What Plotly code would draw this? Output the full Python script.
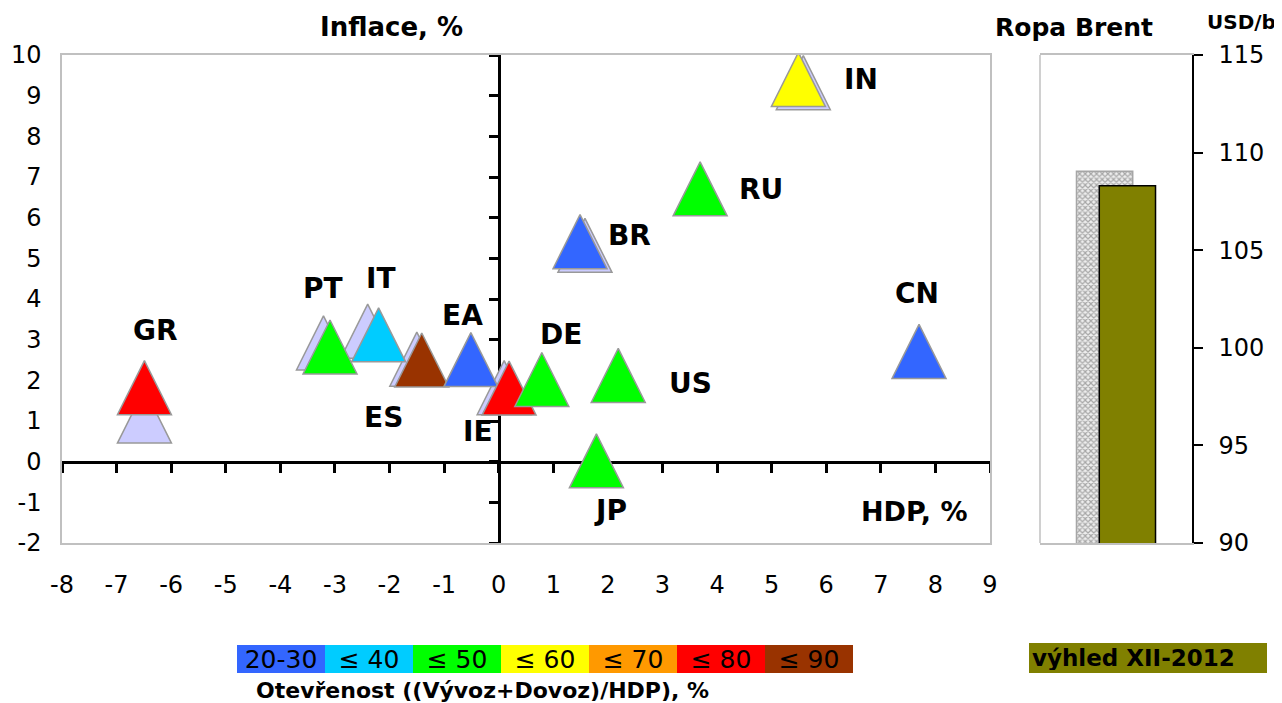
import plotly.graph_objects as go

W, H = 1282, 703          # browser window
OFF = 8                   # default page body margin
FW, FH = W - OFF, H - OFF # figure size so that it ends at the window edge

# ---------------- data ----------------
countries = ["GR", "PT", "IT", "ES", "EA", "IE", "DE", "US", "JP", "BR", "RU", "IN", "CN"]
gdp = [-6.49, -3.09, -2.20, -1.41, -0.51, 0.19, 0.79, 2.19, 1.79, 1.49, 3.69, 5.49, 7.70]
inflation = [1.82, 2.82, 3.12, 2.50, 2.51, 1.81, 2.02, 2.12, 0.02, 5.41, 6.71, 9.40, 2.71]
openness = ["≤ 80", "≤ 50", "≤ 40", "≤ 90", "20-30", "≤ 80", "≤ 50", "≤ 50", "≤ 50",
            "20-30", "≤ 50", "≤ 60", "20-30"]

prev_countries = ["GR", "PT", "IT", "ES", "IE", "BR", "IN"]
prev_gdp = [-6.49, -3.21, -2.40, -1.50, 0.10, 1.58, 5.58]
prev_inflation = [1.12, 2.92, 3.21, 2.52, 1.82, 5.32, 9.32]

openness_classes = ["20-30", "≤ 40", "≤ 50", "≤ 60", "≤ 70", "≤ 80", "≤ 90"]
class_colors = ["#3366FF", "#00CCFF", "#00FF00", "#FFFF00", "#FF9900", "#FF0000", "#993300"]

brent_prev = 109.05
brent_now = 108.3

x_ticks = list(range(-8, 10))
x_tick_text = [str(v) for v in x_ticks]
y_ticks = list(range(-2, 11))
y_tick_text = [str(v) for v in y_ticks]
brent_ticks = [90, 95, 100, 105, 110, 115]

# label offsets in px (style)
label_offsets = {
    "GR": (11, 57), "PT": (-7, 58), "IT": (2, 56), "ES": (-38, -57), "EA": (-8, 44),
    "IE": (-31, -43), "DE": (19, 45), "US": (72, -8), "JP": (14, -50), "BR": (49, 6),
    "RU": (61, -1), "IN": (63, 0), "CN": (-2, 58),
}

# ---------------- layout geometry (window pixels -> paper) ----------------
def px_x(p):
    return (p - OFF) / FW

def px_y(p):
    return 1 - (p - OFF) / FH

main_x = [px_x(62), px_x(990)]
main_y = [px_y(543), px_y(55)]
oil_x = [px_x(1040), px_x(1192)]

XR = [-8, 9]
YR = [-2, 10]
pos_y0 = main_y[0] + (0 - YR[0]) / (YR[1] - YR[0]) * (main_y[1] - main_y[0])
pos_x0 = main_x[0] + (0 - XR[0]) / (XR[1] - XR[0]) * (main_x[1] - main_x[0])

FONT = "DejaVu Sans"
MSIZE = 54
mline = dict(color="#999999", width=1.5)

color_map = dict(zip(openness_classes, class_colors))

fig = go.Figure()

# previous outlook (lavender)
fig.add_trace(go.Scatter(
    x=prev_gdp, y=prev_inflation, mode="markers", xaxis="x", yaxis="y",
    marker=dict(symbol="arrow-down", angle=180, standoff=MSIZE / 2, size=MSIZE,
                color="#CCCCFF", line=mline),
    hoverinfo="skip", showlegend=False,
))
# current outlook
fig.add_trace(go.Scatter(
    x=gdp, y=inflation, mode="markers", xaxis="x", yaxis="y",
    marker=dict(symbol="arrow-down", angle=180, standoff=MSIZE / 2, size=MSIZE,
                color=[color_map[o] for o in openness], line=mline),
    text=countries, hoverinfo="text", showlegend=False,
))
# dummy trace to activate the zero-crossing axes
fig.add_trace(go.Scatter(x=[None], y=[None], xaxis="x2", yaxis="y2",
                         hoverinfo="skip", showlegend=False))

# oil bars
fig.add_trace(go.Bar(
    x=[0.5], y=[brent_prev], xaxis="x3", yaxis="y3", width=0.37, offset=-0.26,
    marker=dict(color="#d9d9d9", line=dict(color="#a6a6a6", width=1.5),
                pattern=dict(shape="x", fgcolor="#a6a6a6", bgcolor="#eeeeee",
                             size=4, solidity=0.5)),
    hoverinfo="y", showlegend=False,
))
fig.add_trace(go.Bar(
    x=[0.5], y=[brent_now], xaxis="x3", yaxis="y3", width=0.37, offset=-0.11,
    marker=dict(color="#808000", line=dict(color="#000000", width=1.5)),
    hoverinfo="y", showlegend=False,
))

annotations = []
for c, gx, iy in zip(countries, gdp, inflation):
    dx, dy = label_offsets[c]
    annotations.append(dict(
        x=gx, y=iy, xref="x", yref="y", text=c, showarrow=False,
        xshift=dx, yshift=dy, xanchor="center", yanchor="middle",
        font=dict(family=FONT, size=28, color="black", weight="bold"),
    ))

def title(text, x, y, size, anchor="center"):
    annotations.append(dict(
        x=px_x(x), y=px_y(y), xref="paper", yref="paper", text=text, showarrow=False,
        xanchor=anchor, yanchor="middle",
        font=dict(family=FONT, size=size, color="black", weight="bold"),
    ))

title("Inflace, %", 391, 27, 26)
title("HDP, %", 915, 511, 27)
title("Ropa Brent", 1074, 27, 25)
title("USD/b", 1241, 22, 20)
title("Otevřenost ((Vývoz+Dovoz)/HDP), %", 482, 690, 22)

# colour legend boxes
for i, (cls, col) in enumerate(zip(openness_classes, class_colors)):
    annotations.append(dict(
        x=px_x(237 + 44 + 88 * i), y=px_y(659), xref="paper", yref="paper",
        text=cls, showarrow=False, xanchor="center", yanchor="middle",
        width=88, height=28, bgcolor=col, borderpad=0, borderwidth=0,
        font=dict(family=FONT, size=25, color="black"),
    ))
annotations.append(dict(
    x=px_x(1148), y=px_y(658), xref="paper", yref="paper",
    text="výhled XII-2012", showarrow=False, xanchor="center", yanchor="middle",
    width=232, height=24, bgcolor="#808000", borderpad=3, borderwidth=0, align="left",
    font=dict(family=FONT, size=23, color="black", weight="bold"),
))

fig.update_layout(
    template="none",
    width=FW, height=FH,
    margin=dict(l=0, r=0, t=0, b=0, autoexpand=False),
    paper_bgcolor="white", plot_bgcolor="white",
    barmode="overlay",
    showlegend=False,
    font=dict(family=FONT, color="black"),
    xaxis=dict(domain=main_x, range=XR, anchor="y", showgrid=False, zeroline=False,
               automargin=False,
               showline=True, mirror=True, linecolor="#c0c0c0", linewidth=1.5,
               tickvals=x_ticks, ticktext=x_tick_text, ticks="",
               tickfont=dict(family=FONT, size=24), ticklabelstandoff=19),
    yaxis=dict(domain=main_y, range=YR, anchor="x", showgrid=False, zeroline=False,
               automargin=False,
               showline=True, mirror=True, linecolor="#c0c0c0", linewidth=1.5,
               tickvals=y_ticks, ticktext=y_tick_text, ticks="",
               tickfont=dict(family=FONT, size=24), ticklabelstandoff=14),
    xaxis2=dict(overlaying="x", anchor="free", position=pos_y0, side="bottom",
                automargin=False,
                range=XR, showgrid=False, zeroline=False, showline=True,
                linecolor="black", linewidth=3, ticks="outside", ticklen=9,
                tickwidth=2.5, tickcolor="black", dtick=1, tick0=0,
                showticklabels=False, layer="below traces"),
    yaxis2=dict(overlaying="y", anchor="free", position=pos_x0, side="left",
                automargin=False,
                range=YR, showgrid=False, zeroline=False, showline=True,
                linecolor="black", linewidth=3, ticks="outside", ticklen=9,
                tickwidth=2.5, tickcolor="black", dtick=1, tick0=0,
                showticklabels=False, layer="below traces"),
    xaxis3=dict(domain=oil_x, range=[0, 1], anchor="y3", showgrid=False, zeroline=False,
                automargin=False,
                showline=True, mirror=True, linecolor="#c0c0c0", linewidth=1.5,
                showticklabels=False, ticks=""),
    yaxis3=dict(domain=main_y, range=[90, 115], anchor="x3", side="right",
                automargin=False,
                showgrid=False, zeroline=False, showline=True, linecolor="black",
                linewidth=1.5, tickvals=brent_ticks, ticks="outside", ticklen=9,
                tickcolor="black", tickwidth=1.5,
                tickfont=dict(family=FONT, size=24), ticklabelstandoff=11),
    shapes=[dict(type="line", xref="x3 domain", yref="y3 domain", x0=0, x1=0, y0=0, y1=1,
                 line=dict(color="#c0c0c0", width=1.5), layer="below")],
    annotations=annotations,
)

fig.write_html("out.html")
